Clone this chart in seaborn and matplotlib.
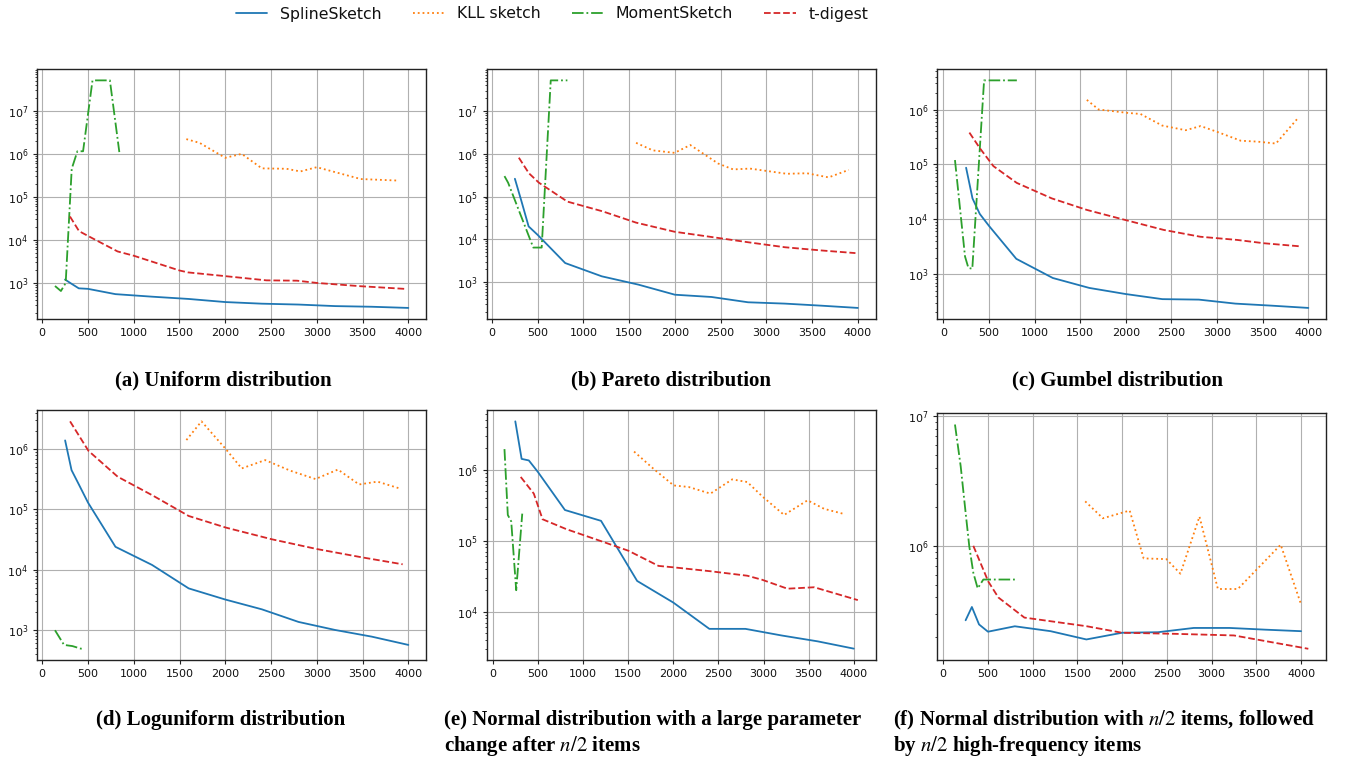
import matplotlib
matplotlib.use("Agg")
import matplotlib.pyplot as plt
import seaborn as sns
import pandas as pd

# ---------------- data ----------------
sketches = ["SplineSketch", "KLL sketch", "MomentSketch", "t-digest"]
spline_x = [250, 320, 400, 500, 800, 1200, 1600, 2000, 2400, 2800, 3200, 3600, 4000]

# (a) Uniform
a_spline = [1200, 960, 750, 730, 550, 480, 425, 360, 330, 315, 290, 280, 263]
a_kll_x = [1575, 1720, 2000, 2180, 2400, 2670, 2820, 3000, 3480, 3880]
a_kll = [2.2e6, 1.8e6, 8.1e5, 1.0e6, 4.6e5, 4.5e5, 3.9e5, 4.9e5, 2.6e5, 2.4e5]
a_mom_x = [140, 205, 257, 323, 385, 447, 550, 740, 843]
a_mom = [850, 650, 1000, 4.5e5, 1.15e6, 1.15e6, 5.1e7, 5.1e7, 1.1e6]
a_td_x = [304, 403, 513, 824, 1000, 1500, 1593, 2015, 2450, 2784, 3004, 3480, 3956]
a_td = [3.5e4, 1.6e4, 1.2e4, 5400, 4300, 1950, 1760, 1430, 1150, 1130, 1000, 840, 730]

# (b) Pareto
b_spline = [2.6e5, 8e4, 2.0e4, 1.26e4, 2780, 1360, 870, 505, 447, 336, 313, 280, 248]
b_kll_x = [1575, 1758, 1996, 2168, 2473, 2637, 2820, 3223, 3443, 3681, 3901]
b_kll = [1.8e6, 1.2e6, 1.05e6, 1.6e6, 5.9e5, 4.3e5, 4.5e5, 3.4e5, 3.5e5, 2.8e5, 4.2e5]
b_mom_x = [136, 176, 451, 543, 642, 824]
b_mom = [3.0e5, 2.1e5, 6400, 6400, 5.2e7, 5.2e7]
b_td_x = [293, 403, 513, 824, 1209, 1575, 1996, 2491, 2820, 3205, 3590, 3974]
b_td = [8.1e5, 3.5e5, 2.1e5, 7.6e4, 4.5e4, 2.45e4, 1.5e4, 1.06e4, 8400, 6500, 5500, 4750]

# (c) Gumbel
c_spline = [8.7e4, 2.4e4, 1.25e4, 7.6e3, 1.9e3, 850, 560, 433, 350, 343, 290, 266, 242]
c_kll_x = [1573, 1703, 1868, 2015, 2161, 2399, 2656, 2820, 3004, 3260, 3443, 3645, 3890]
c_kll = [1.5e6, 1.0e6, 9.3e5, 8.7e5, 8.3e5, 5.1e5, 4.2e5, 5.0e5, 3.9e5, 2.7e5, 2.6e5, 2.4e5, 7.1e5]
c_mom_x = [128, 238, 275, 318, 447, 806]
c_mom = [1.2e5, 2.1e3, 1.3e3, 1.25e3, 3.4e6, 3.4e6]
c_td_x = [286, 403, 549, 805, 1189, 1573, 1994, 2414, 2817, 3220, 3516, 3919]
c_td = [3.8e5, 1.95e5, 9.3e4, 4.6e4, 2.4e4, 1.48e4, 9.7e3, 6.4e3, 4.8e3, 4.2e3, 3.65e3, 3.2e3]

# (d) Loguniform
d_spline = [1.4e6, 4.5e5, 2.6e5, 1.3e5, 2.4e4, 1.2e4, 4.9e3, 3.2e3, 2.2e3, 1.36e3, 1.0e3, 775, 565]
d_kll_x = [1575, 1740, 2007, 2179, 2436, 2711, 2985, 3231, 3462, 3663, 3919]
d_kll = [1.42e6, 2.9e6, 1.0e6, 4.8e5, 6.6e5, 4.4e5, 3.2e5, 4.6e5, 2.6e5, 2.9e5, 2.2e5]
d_mom_x = [139, 238, 330, 421, 458]
d_mom = [990, 565, 540, 490, 490]
d_td_x = [304, 505, 824, 1209, 1600, 2007, 2509, 3004, 3498, 3938]
d_td = [2.9e6, 9.4e5, 3.5e5, 1.7e5, 7.8e4, 5.0e4, 3.2e4, 2.2e4, 1.6e4, 1.23e4]

# (e) Normal with parameter change
e_spline = [4.8e6, 1.42e6, 1.35e6, 9.3e5, 2.7e5, 1.9e5, 2.7e4, 1.34e4, 5.7e3, 5.7e3, 4.6e3, 3.8e3, 3.0e3]
e_kll_x = [1566, 1781, 2004, 2171, 2412, 2653, 2820, 2987, 3228, 3488, 3673, 3878]
e_kll = [1.8e6, 1.03e6, 6.0e5, 5.7e5, 4.6e5, 7.3e5, 6.7e5, 4.2e5, 2.3e5, 3.7e5, 2.8e5, 2.4e5]
e_mom_x = [130, 167, 205, 260, 327]
e_mom = [1.95e6, 2.3e5, 1.86e5, 2.0e4, 2.4e5]
e_td_x = [310, 455, 552, 816, 1213, 1503, 1837, 2004, 2412, 2820, 2987, 3265, 3562, 4045]
e_td = [7.9e5, 4.6e5, 2.0e5, 1.45e5, 9.7e4, 7.2e4, 4.4e4, 4.2e4, 3.7e4, 3.2e4, 2.8e4, 2.1e4, 2.2e4, 1.45e4]

# (f) Normal followed by high-frequency items
f_spline = [2.67e5, 3.38e5, 2.48e5, 2.18e5, 2.4e5, 2.2e5, 1.9e5, 2.14e5, 2.16e5, 2.33e5, 2.33e5, 2.26e5, 2.2e5]
f_kll_x = [1587, 1785, 2084, 2240, 2494, 2651, 2864, 3070, 3293, 3772, 3996]
f_kll = [2.2e6, 1.63e6, 1.87e6, 8.0e5, 7.9e5, 6.1e5, 1.68e6, 4.65e5, 4.65e5, 1.02e6, 3.6e5]
f_mom_x = [131, 195, 243, 291, 336, 385, 448, 829]
f_mom = [8.6e6, 4.1e6, 2.0e6, 9.9e5, 6.2e5, 4.7e5, 5.5e5, 5.5e5]
f_td_x = [336, 504, 616, 907, 1606, 1998, 2577, 3249, 4081]
f_td = [1.0e6, 5.3e5, 4.0e5, 2.8e5, 2.4e5, 2.14e5, 2.1e5, 2.04e5, 1.61e5]

captions = [
    "(a) Uniform distribution",
    "(b) Pareto distribution",
    "(c) Gumbel distribution",
    "(d) Loguniform distribution",
    ["(e) Normal distribution with a large parameter", "change after $n/2$ items"],
    ["(f) Normal distribution with $n/2$ items, followed", "by $n/2$ high-frequency items"],
]

panels = [
    (a_spline, a_kll_x, a_kll, a_mom_x, a_mom, a_td_x, a_td),
    (b_spline, b_kll_x, b_kll, b_mom_x, b_mom, b_td_x, b_td),
    (c_spline, c_kll_x, c_kll, c_mom_x, c_mom, c_td_x, c_td),
    (d_spline, d_kll_x, d_kll, d_mom_x, d_mom, d_td_x, d_td),
    (e_spline, e_kll_x, e_kll, e_mom_x, e_mom, e_td_x, e_td),
    (f_spline, f_kll_x, f_kll, f_mom_x, f_mom, f_td_x, f_td),
]

# ---------------- style ----------------
sns.set_theme(style="ticks")
plt.rcParams["font.family"] = ["DejaVu Sans"]
plt.rcParams["mathtext.fontset"] = "stix"
plt.rcParams["axes.edgecolor"] = "#222222"
plt.rcParams["text.color"] = "black"

palette = {"SplineSketch": "#1f77b4", "KLL sketch": "#ff7f0e",
           "MomentSketch": "#2ca02c", "t-digest": "#d62728"}
dashes = {"SplineSketch": "", "KLL sketch": (1, 1.65),
          "MomentSketch": (6.4, 1.6, 1, 1.6), "t-digest": (3.7, 1.6)}

W, H = 1353, 763
fig = plt.figure(figsize=(W / 100, H / 100), dpi=100)

col_left = [37.3, 486.8, 937.3]
ax_w = 388.7
rows = [(69, 319.3), (410, 660)]

axes = []
for i in range(6):
    r, c = divmod(i, 3)
    top, bot = rows[r]
    if i == 5:
        top = 413.3
    rect = [col_left[c] / W, 1 - bot / H, ax_w / W, (bot - top) / H]
    axes.append(fig.add_axes(rect))

handles = labels = None
for i, (ax, p) in enumerate(zip(axes, panels)):
    sp, kx, ky, mx, my, tx, ty = p
    frames = [
        pd.DataFrame({"x": spline_x, "y": sp, "sketch": "SplineSketch"}),
        pd.DataFrame({"x": kx, "y": ky, "sketch": "KLL sketch"}),
        pd.DataFrame({"x": mx, "y": my, "sketch": "MomentSketch"}),
        pd.DataFrame({"x": tx, "y": ty, "sketch": "t-digest"}),
    ]
    df = pd.concat(frames, ignore_index=True)
    sns.lineplot(data=df, x="x", y="y", hue="sketch", style="sketch",
                 hue_order=sketches, style_order=sketches,
                 palette=palette, dashes=dashes, estimator=None,
                 linewidth=1.3, ax=ax, legend=(i == 0))
    ax.set_yscale("log")
    ax.set_xticks([0, 500, 1000, 1500, 2000, 2500, 3000, 3500, 4000])
    ax.grid(True, which="major", color="#b0b0b0", linewidth=0.8)
    ax.set_axisbelow(True)
    ax.set_xlabel("")
    ax.set_ylabel("")
    ax.tick_params(axis="both", which="major", labelsize=8, length=3, width=0.8,
                   colors="#222222", labelcolor="#111111")
    ax.tick_params(axis="y", which="minor", length=1.8, width=0.6, colors="#222222")
    for s in ax.spines.values():
        s.set_linewidth(1.0)
    if i == 0:
        handles, labels = ax.get_legend_handles_labels()
        ax.get_legend().remove()

fig.legend(handles, labels, loc="center", bbox_to_anchor=(552 / W, 1 - 14 / H),
           ncol=4, frameon=False, fontsize=11.3, handlelength=2.0,
           columnspacing=2.0, handletextpad=0.8, labelcolor="#111111")

cap_font = dict(family=["Liberation Serif"], weight="bold", fontsize=15, color="black")
centers = [223, 671, 1117, 221]
for i in range(4):
    y = 380 if i < 3 else 720
    fig.text(centers[i] / W, 1 - y / H, captions[i], ha="center", va="center", **cap_font)
for i, xl in zip([4, 5], [444, 893]):
    l1, l2 = captions[i]
    fig.text(xl / W, 1 - 720 / H, l1, ha="left", va="center", **cap_font)
    fig.text(xl / W, 1 - 746 / H, l2, ha="left", va="center", **cap_font)

fig.savefig("out.png", dpi=100)
